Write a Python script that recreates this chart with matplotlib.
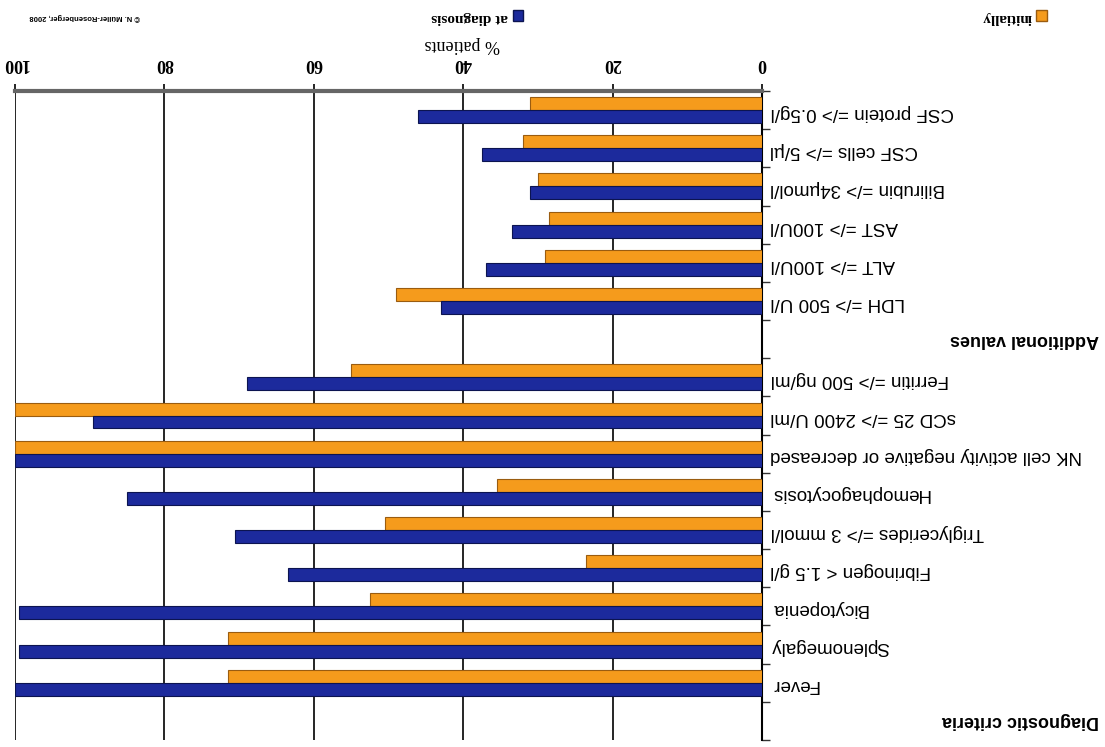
import numpy as np
import matplotlib
matplotlib.use("Agg")
from matplotlib import pyplot as plt
from matplotlib.patches import Patch
from matplotlib.transforms import blended_transform_factory

# rows as they appear from top to bottom (the figure is shown upside down)
rows = ["CSF protein =/> 0.5g/l", "CSF cells =/> 5/µl", "Bilirubin =/> 34µmol/l",
        "AST =/> 100U/l", "ALT =/> 100U/l", "LDH =/> 500 U/l",
        "Additional values",
        "Ferritin =/> 500 ng/ml", "sCD 25 =/> 2400 U/ml",
        "NK cell activity negative or decreased", "Hemophagocytosis",
        "Triglycerides =/> 3 mmol/l", "Fibrinogen < 1.5 g/l", "Bicytopenia",
        "Splenomegaly", "Fever",
        "Diagnostic criteria"]
headers = ["Additional values", "Diagnostic criteria"]

nan = np.nan
# % patients
initially    = [31, 32, 30, 28.5, 29, 49, nan, 55, 100, 100, 35.5, 50.5, 23.5, 52.5, 71.5, 71.5, nan]
at_diagnosis = [46, 37.5, 31, 33.5, 37, 43, nan, 69, 89.5, 100, 85, 70.5, 63.5, 99.5, 99.5, 100, nan]

xticks = [0, 20, 40, 60, 80, 100]

c_init = '#f59b1c'
c_diag = '#1c2a9c'

fig = plt.figure(figsize=(11.05, 7.47), dpi=100)
ax = fig.add_axes([15/1105, 1 - 740/747, (762-15)/1105, (740-91)/747])

y = np.arange(len(rows))
h = 0.34
ax.barh(y - h/2, initially, height=h, color=c_init, edgecolor='#9a5c10', linewidth=0.8, zorder=3)
ax.barh(y + h/2, at_diagnosis, height=h, color=c_diag, edgecolor='#0c1450', linewidth=0.8, zorder=3)

ax.set_xlim(100, 0)
ax.set_ylim(len(rows) - 0.5, -0.5)

# x axis on top, text turned over like the rest of the picture
ax.xaxis.tick_top()
ax.set_xticks(xticks)
ax.set_xticklabels([str(v) for v in xticks], family='Liberation Serif', fontsize=13, fontweight='bold')
ax.tick_params(axis='x', labelrotation=180, length=5, width=1.2, pad=9, color='black')
ax.grid(axis='x', color='black', linewidth=1.2, zorder=1)

# y axis on the right
ax.yaxis.tick_right()
ax.set_yticks(y)
ax.set_yticklabels(["" if r in headers else r for r in rows], family='Liberation Sans', fontsize=13.5)
ax.set_yticks(np.arange(len(rows) + 1) - 0.5, minor=True)
ax.tick_params(axis='y', which='major', length=0, pad=6, labelrotation=180)
ax.tick_params(axis='y', which='minor', length=6, width=1.0, color='#333333')

for s in ['left', 'bottom']:
    ax.spines[s].set_visible(False)
ax.spines['right'].set_color('black')
ax.spines['right'].set_linewidth(1.5)
ax.spines['top'].set_color('#666666')
ax.spines['top'].set_linewidth(3)

# section headers
tr = blended_transform_factory(fig.transFigure, ax.transData)
for r in headers:
    ax.text(1099/1105, rows.index(r), r, transform=tr, ha='right', va='center',
            rotation=180, family='Liberation Sans', fontsize=13, fontweight='bold')

fig.text(462/1105, 1 - 45/747, "% patients", ha='center', va='center', rotation=180,
         family='Liberation Serif', fontsize=13)

handles = [Patch(facecolor=c_diag, edgecolor='#0c1450', label='at diagnosis'),
           Patch(facecolor=c_init, edgecolor='#9a5c10', label='initially')]
leg = fig.legend(handles=handles, loc='center', bbox_to_anchor=(739/1105, 1 - 17/747), ncol=2,
                 markerfirst=False, frameon=False, columnspacing=30, handlelength=0.7,
                 handleheight=0.7, handletextpad=0.3,
                 prop={'family': 'Liberation Serif', 'size': 11, 'weight': 'bold'})
for t in leg.get_texts():
    t.set_rotation(180)

fig.text(85/1105, 1 - 17/747, "© N. Müller-Rosenberger, 2008", ha='center', va='center', rotation=180,
         family='Liberation Sans', fontsize=5.5, fontweight='bold')

plt.savefig('out.png', dpi=100)
